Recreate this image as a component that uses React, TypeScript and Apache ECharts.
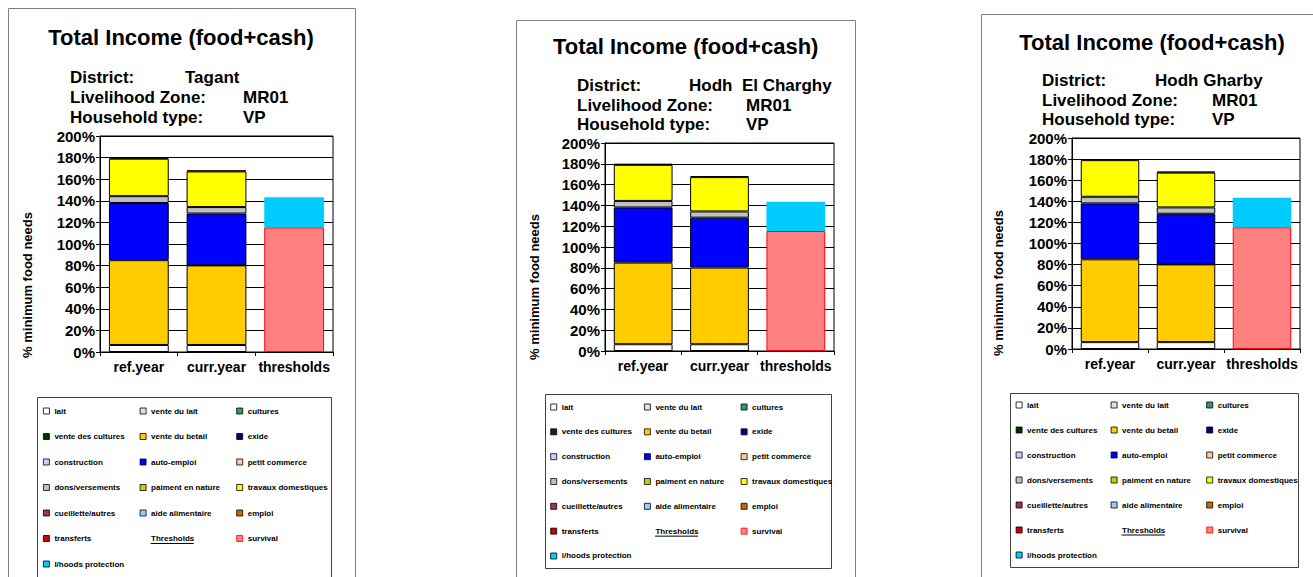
import React, { useEffect, useRef } from 'react';
import * as echarts from 'echarts';

const categories = ['ref.year', 'curr.year', 'thresholds'];
const chartTitle = 'Total Income (food+cash)';
const districts = ['Tagant', 'Hodh  El Charghy', 'Hodh Gharby'];
const livelihoodZone = 'MR01';
const householdType = 'VP';
const yAxisTitle = '% minimum food needs';

const seriesNames = [
  'lait', 'vente du lait', 'cultures', 'vente des cultures', 'vente du betail', 'exide',
  'construction', 'auto-emploi', 'petit commerce', 'dons/versements', 'paiment en nature',
  'travaux domestiques', 'cueillette/autres', 'aide alimentaire', 'emploi', 'transferts',
  'Thresholds', 'survival', 'l/hoods protection',
];

// values in % of minimum food needs: [ref.year, curr.year, thresholds]
const lait = [6.5, 6.5, '-'];
const venteDuBetail = [78.5, 73.7, '-'];
const autoEmploi = [53, 48, '-'];
const donsVersements = [6.3, 6, '-'];
const travauxDomestiques = [34.7, 33, '-'];
const cueilletteAutres = [1, 1, '-'];
const survival = ['-', '-', 115.4];
const lhoodsProtection = ['-', '-', 28];

const seriesValues: Record<string, any[]> = {
  'lait': lait,
  'vente du betail': venteDuBetail,
  'auto-emploi': autoEmploi,
  'dons/versements': donsVersements,
  'travaux domestiques': travauxDomestiques,
  'cueillette/autres': cueilletteAutres,
  'survival': survival,
  'l/hoods protection': lhoodsProtection,
};

const seriesColors: Record<string, string> = {
  'lait': '#FFFFFF',
  'vente du lait': '#E0E0E0',
  'cultures': '#339966',
  'vente des cultures': '#003300',
  'vente du betail': '#FFCC00',
  'exide': '#000080',
  'construction': '#CCCCFF',
  'auto-emploi': '#0000FF',
  'petit commerce': '#FFCC99',
  'dons/versements': '#C0C0C0',
  'paiment en nature': '#CCCC00',
  'travaux domestiques': '#FFFF00',
  'cueillette/autres': '#993366',
  'aide alimentaire': '#99CCFF',
  'emploi': '#CC6600',
  'transferts': '#CC0000',
  'Thresholds': 'transparent',
  'survival': '#FF8080',
  'l/hoods protection': '#00CCFF',
};

const legendColumns = [
  ['lait', 'vente des cultures', 'construction', 'dons/versements', 'cueillette/autres', 'transferts', 'l/hoods protection'],
  ['vente du lait', 'vente du betail', 'auto-emploi', 'paiment en nature', 'aide alimentaire', 'Thresholds'],
  ['cultures', 'exide', 'petit commerce', 'travaux domestiques', 'emploi', 'survival'],
];

const FONT = '"Liberation Sans", Arial, sans-serif';

const panels = [
  {
    frame: [8.5, 8.5, 347, 620], title: [181, 37], subX: [70, 185, 243], subY: [77, 97, 117],
    grid: { left: 100, top: 136, width: 233, height: 216 }, yName: [27, 285],
    legendBox: [37.5, 397.5, 294, 182], legendCols: [43, 139.7, 236.3], legendTop: 406, rowGap: 25.5,
  },
  {
    frame: [516.5, 20.5, 339, 620], title: [685.7, 46.7], subX: [577, 689, 746], subY: [85, 105, 124],
    grid: { left: 605, top: 143, width: 229, height: 208 }, yName: [534, 287],
    legendBox: [545.5, 394.5, 286, 174], legendCols: [550.3, 644, 740.7], legendTop: 402, rowGap: 24.83,
  },
  {
    frame: [981.5, 14.5, 400, 620], title: [1152, 42.7], subX: [1042, 1155, 1212], subY: [80, 100, 119],
    grid: { left: 1072, top: 138, width: 228, height: 211 }, yName: [998, 283],
    legendBox: [1010.5, 393.5, 288, 174], legendCols: [1015.7, 1110.7, 1206.3], legendTop: 400, rowGap: 25,
  },
];

function txt(text: string, x: number, y: number, size: number, align = 'left', rotation = 0) {
  return {
    type: 'text', x, y, rotation, silent: true,
    style: {
      text, fontFamily: FONT, fontWeight: 'bold', fontSize: size, fill: '#000',
      align, verticalAlign: 'middle', textAlign: align, textVerticalAlign: 'middle',
    },
  };
}

export default function App() {
  const ref = useRef<HTMLDivElement>(null);
  useEffect(() => {
    if (!ref.current) return;
    const chart = echarts.init(ref.current, null, { renderer: 'svg' });

    const grids: any[] = [];
    const xAxes: any[] = [];
    const yAxes: any[] = [];
    const series: any[] = [];
    const legends: any[] = [];
    const graphics: any[] = [];

    panels.forEach((p, pi) => {
      grids.push({ ...p.grid, show: true, borderColor: '#000', borderWidth: 1, backgroundColor: 'transparent', containLabel: false });
      xAxes.push({
        type: 'category', gridIndex: pi, data: categories,
        axisLine: { lineStyle: { color: '#000', width: 1 } },
        axisTick: { show: true, length: 4, lineStyle: { color: '#000' } },
        axisLabel: { interval: 0, margin: 8, color: '#000', fontWeight: 'bold', fontSize: 14, fontFamily: FONT },
      });
      yAxes.push({
        type: 'value', gridIndex: pi, min: 0, max: 200, interval: 20,
        axisLine: { show: true, lineStyle: { color: '#000', width: 1 } },
        axisTick: { show: true, length: 4, lineStyle: { color: '#000' } },
        axisLabel: { formatter: '{value}%', margin: 5, color: '#000', fontWeight: 'bold', fontSize: 15, fontFamily: FONT },
        splitLine: { show: true, lineStyle: { color: '#000', width: 1 } },
      });
      seriesNames.forEach((name) => {
        const isSurvival = name === 'survival';
        const isProt = name === 'l/hoods protection';
        series.push({
          type: 'bar', name, xAxisIndex: pi, yAxisIndex: pi, stack: 'total' + pi,
          barCategoryGap: '23%',
          data: seriesValues[name] || ['-', '-', '-'],
          itemStyle: {
            color: seriesColors[name],
            borderColor: isSurvival ? '#FF0000' : '#000',
            borderWidth: isProt || name === 'Thresholds' ? 0 : 1,
          },
          emphasis: { disabled: true },
        });
      });
      legendColumns.forEach((col, ci) => {
        legends.push({
          orient: 'vertical', left: p.legendCols[ci], top: p.legendTop, padding: 0,
          itemWidth: 6, itemHeight: 6, itemGap: p.rowGap - 10, icon: 'rect', selectedMode: false,
          itemStyle: { borderWidth: 0.8 },
          textStyle: { fontSize: 8, fontWeight: 'bold', fontFamily: FONT, color: '#000', lineHeight: 10 },
          data: col.map((n) => (n === 'Thresholds' ? { name: n, icon: 'none' } : { name: n })),
        });
      });
      // underline for "Thresholds"
      const thrRow = legendColumns[1].indexOf('Thresholds');
      const ux = p.legendCols[1] + 11;
      const uy = p.legendTop + 5 + thrRow * p.rowGap + 5;
      graphics.push({ type: 'line', silent: true, shape: { x1: ux, y1: uy, x2: ux + 43, y2: uy }, style: { stroke: '#000', lineWidth: 1 } });
      // frame
      graphics.push({ type: 'rect', silent: true, shape: { x: p.frame[0], y: p.frame[1], width: p.frame[2], height: p.frame[3] }, style: { fill: 'none', stroke: '#808080', lineWidth: 1 } });
      // legend box
      graphics.push({ type: 'rect', silent: true, shape: { x: p.legendBox[0], y: p.legendBox[1], width: p.legendBox[2], height: p.legendBox[3] }, style: { fill: 'none', stroke: '#404040', lineWidth: 1 } });
      // title & subtitles
      graphics.push(txt(chartTitle, p.title[0], p.title[1], 22, 'center'));
      graphics.push(txt('District:', p.subX[0], p.subY[0], 17));
      graphics.push(txt(districts[pi], p.subX[1], p.subY[0], 17));
      graphics.push(txt('Livelihood Zone:', p.subX[0], p.subY[1], 17));
      graphics.push(txt(livelihoodZone, p.subX[2], p.subY[1], 17));
      graphics.push(txt('Household type:', p.subX[0], p.subY[2], 17));
      graphics.push(txt(householdType, p.subX[2], p.subY[2], 17));
      graphics.push(txt(yAxisTitle, p.yName[0], p.yName[1], 13, 'center', Math.PI / 2));
    });

    chart.setOption({
      animation: false,
      backgroundColor: '#fff',
      grid: grids,
      xAxis: xAxes,
      yAxis: yAxes,
      legend: legends,
      series,
      graphic: graphics,
    });
    return () => chart.dispose();
  }, []);

  return <div ref={ref} style={{ position: 'absolute', left: 0, top: 0, width: 1313, height: 577 }} />;
}
